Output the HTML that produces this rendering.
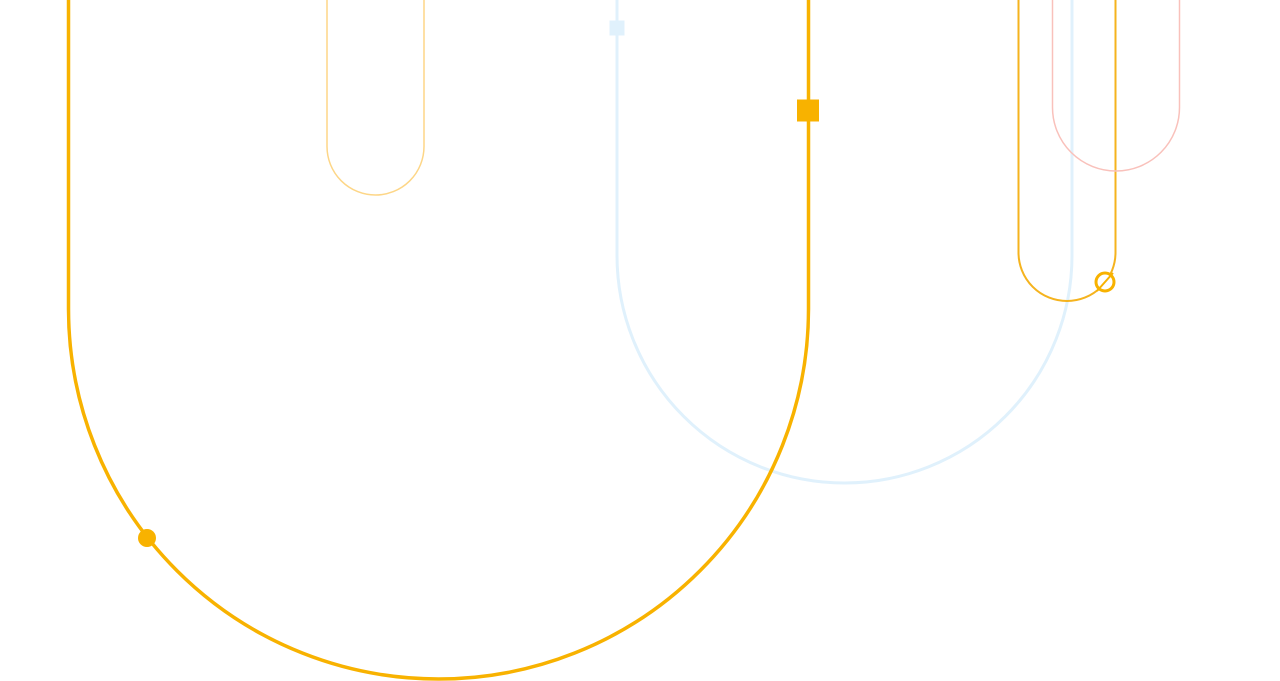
<!DOCTYPE html>
<html><head><meta charset="utf-8"><style>
html,body{margin:0;padding:0;background:#fff;width:1280px;height:681px;overflow:hidden}
svg{display:block}
</style></head><body>
<svg width="1280" height="681" viewBox="0 0 1280 681" xmlns="http://www.w3.org/2000/svg" fill="none">
<path d="M617 -10 V255.5 A227.5 227.5 0 0 0 1072 255.5 V-10" stroke="#E0F1FC" stroke-width="3"/>
<rect x="609.5" y="20.5" width="15" height="15" fill="#E0F1FC"/>
<path d="M68.5 -10 V309 A370 370 0 0 0 808.5 309 V-10" stroke="#F8B200" stroke-width="3.5"/>
<path d="M327 -10 V146.5 A48.5 48.5 0 0 0 424 146.5 V-10" stroke="#FDD687" stroke-width="1.5"/>
<path d="M1018.5 -10 V252.5 A48.5 48.5 0 0 0 1115.5 252.5 V-10" stroke="#F5B31E" stroke-width="2"/>
<path d="M1052.5 -10 V107.5 A63.5 63.5 0 0 0 1179.5 107.5 V-10" stroke="#F9C1BB" stroke-width="1.5"/>
<circle cx="147" cy="538" r="9" fill="#F8B200"/>
<rect x="797" y="99.5" width="22" height="22" fill="#F8B200"/>
<circle cx="1105" cy="282" r="9" stroke="#F8B200" stroke-width="3" fill="#fff"/>
<line x1="1097" y1="291" x2="1113" y2="273" stroke="#F8B200" stroke-width="2"/>
</svg>
</body></html>
